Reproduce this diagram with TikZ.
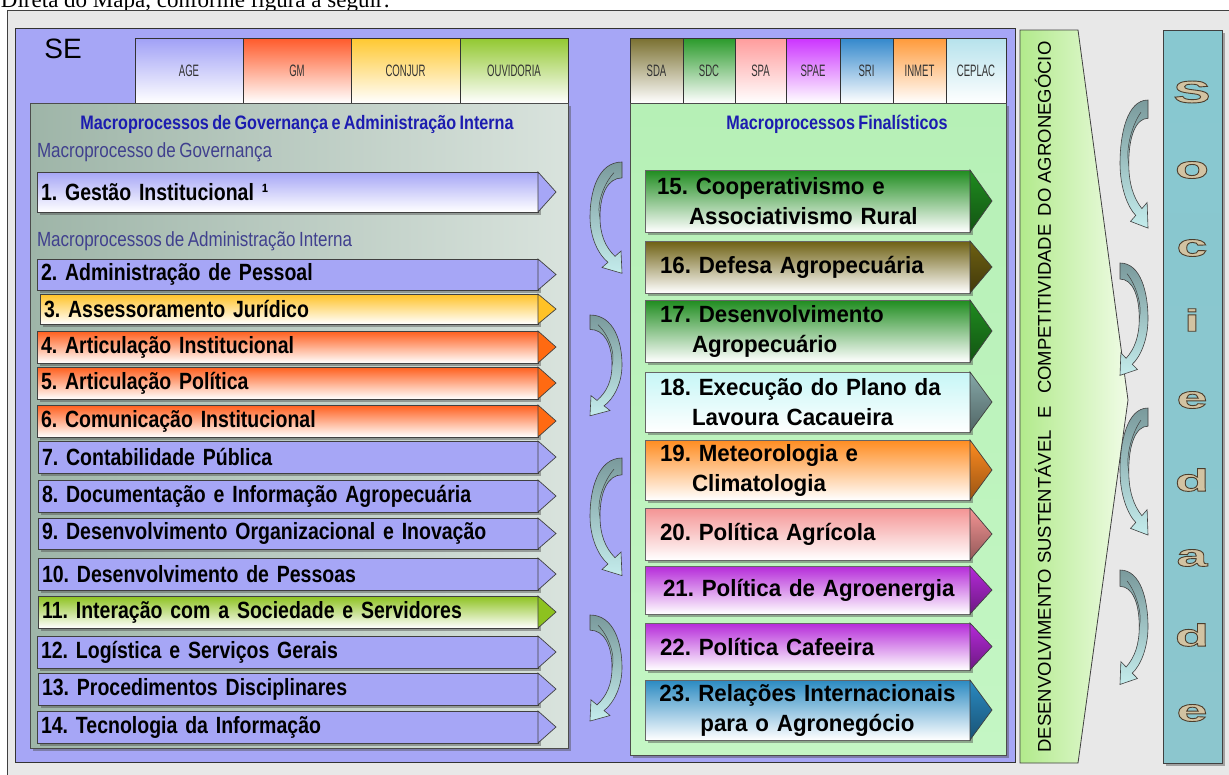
\documentclass[tikz,border=0pt]{standalone}
\usepackage{fontspec}
\setmainfont{Liberation Sans}
\newfontfamily\nb[FakeStretch=0.83,WordSpace=0.75]{Liberation Sans}
\newfontfamily\rb[FakeStretch=0.95,WordSpace=0.8]{Liberation Sans}
\newfontfamily\tabf[FakeStretch=0.58]{Liberation Sans}
\newfontfamily\socf[FakeStretch=1.8]{Liberation Sans}
\newfontfamily\serf{Liberation Serif}
\usetikzlibrary{calc,shadows}
\frenchspacing

\definecolor{outerbg}{HTML}{E8E8E8}
\definecolor{peri}{HTML}{A6A6F6}
\definecolor{paleblue}{HTML}{F2F2FF}
\definecolor{lpanL}{HTML}{9EB5A8}
\definecolor{lpanR}{HTML}{D9E3DD}
\definecolor{gpan}{HTML}{B6F0B6}
\definecolor{gpan2}{HTML}{C4F6C4}
\definecolor{titleblue}{HTML}{1C1CB0}
\definecolor{subblue}{HTML}{40408E}
\definecolor{yel}{HTML}{FFC226}
\definecolor{orr}{HTML}{FF5E1C}
\definecolor{orrtip}{HTML}{FF6A12}
\definecolor{lgreen}{HTML}{8DC21F}
\definecolor{dgreen}{HTML}{1F8C1F}
\definecolor{olive}{HTML}{6E6012}
\definecolor{lcyan}{HTML}{C6F6F6}
\definecolor{cyantip}{HTML}{86A8A8}
\definecolor{orange2}{HTML}{FF8C20}
\definecolor{pink2}{HTML}{F49494}
\definecolor{purp}{HTML}{B52AD9}
\definecolor{blue2}{HTML}{2A8AC2}
\definecolor{tabAGE}{HTML}{A0A0F6}
\definecolor{tabGM}{HTML}{FF5A2A}
\definecolor{tabCJ}{HTML}{FFC830}
\definecolor{tabOV}{HTML}{92C830}
\definecolor{tabSDA}{HTML}{7A7030}
\definecolor{tabSDC}{HTML}{2A9A2A}
\definecolor{tabSPA}{HTML}{FF9C9C}
\definecolor{tabSPAE}{HTML}{CC33FF}
\definecolor{tabSRI}{HTML}{3388CC}
\definecolor{tabINM}{HTML}{FF9A3A}
\definecolor{tabCEP}{HTML}{B6E2EC}
\definecolor{arrdark}{HTML}{7A9A9C}
\definecolor{arrlight}{HTML}{C4ECEC}
\definecolor{bandL}{HTML}{B2EA8C}
\definecolor{bandR}{HTML}{F0FCE6}
\definecolor{socT}{HTML}{88C8D0}
\definecolor{socM}{HTML}{C6F7FA}
\definecolor{socB}{HTML}{8CC6CE}
\definecolor{soctan}{HTML}{D2C3A2}

\tikzset{
  every node/.style={outer sep=0pt},
  pshadow/.style={drop shadow={shadow xshift=3pt,shadow yshift=-3pt,opacity=.45,fill=black!70}},
  litembox/.style={draw=black!75,line width=0.7pt,anchor=north west,inner xsep=4pt,inner ysep=0pt,
    align=left,font=\nb\bfseries\fontsize{23.5}{26}\selectfont,pshadow},
  ritembox/.style={draw=black!60,line width=0.5pt,anchor=north west,inner xsep=10pt,inner ysep=0pt,
    align=left,font=\rb\bfseries\fontsize{23.5}{30}\selectfont,text width=305pt,pshadow},
  tipbox/.style={draw=black!75,line width=0.7pt},
  tabbox/.style={draw=black!80,line width=0.7pt,anchor=north west,inner sep=0pt,
    font=\tabf\fontsize{16.5}{17}\selectfont,text=black!80,bottom color=white},
  curvarrow/.pic={
    \shade[top color=arrdark,bottom color=arrlight,draw=black!75,line width=0.6pt]
      (32,0) .. controls (8,0) and (0,28) .. (0,52)
      .. controls (0,72) and (9,88) .. (18,94.6)
      -- (12,99.5) -- (32,105) -- (31,84) -- (25,89)
      .. controls (15,80) and (10,68) .. (10,52)
      .. controls (10,30) and (18,15) .. (32,15) -- cycle;
    \draw[black!75,line width=0.5pt] (10,52) .. controls (6,40) and (14,20) .. (24,10);
  },
  socl/.style={font=\socf\bfseries\fontsize{31}{31}\selectfont,text=soctan,inner sep=0pt}
}

\newcommand\litem[7]{%
  \node[litembox,#5,text width={(530-#2)*1pt},minimum height={(#4-#3)*1pt}] (#1) at (#2,#3) {#7};
  \filldraw[tipbox,fill=#6] (#1.north east) -- ($(#1.east)+(18,0)$) -- (#1.south east) -- cycle;
}
\newcommand\ritem[6]{%
  \node[ritembox,top color=#4,bottom color=white,minimum height={(#3-#2)*1pt}] (#1) at (645,#2) {#6};
  \shade[tipbox,top color=#5,bottom color=#5!60!black] (#1.north east) -- ($(#1.east)+(22,0)$) -- (#1.south east) -- cycle;
}
\newcommand\outl[1]{\special{pdf:code 2 Tr 0.9 w 0.30 0.24 0.17 RG}#1\special{pdf:code 0 Tr}}

\begin{document}
\begin{tikzpicture}[x=1pt,y=-1pt]
\useasboundingbox (0,0) rectangle (1229,774);

% intro text (cut at top in the reference)
\node[anchor=base west,inner sep=0pt,font=\serf\fontsize{23}{25}\selectfont] (intro) at (1,7) {Direta do Mapa, conforme figura a seguir:};

% outer frame
\draw[fill=outerbg,draw=black!75,line width=0.8pt] (7,10) rectangle (1240,790);

% blue panel
\shade[top color=peri,middle color=paleblue,bottom color=peri,draw=black!80,line width=0.8pt] (15,28) rectangle (1015,762);

\node[font=\fontsize{28}{30}\selectfont] (se) at (63,49) {SE};

% left tabs
\node[tabbox,top color=tabAGE,minimum width=108pt,minimum height=65pt] (tAGE) at (135,38) {AGE};
\node[tabbox,top color=tabGM,minimum width=108pt,minimum height=65pt] (tGM) at (243,38) {GM};
\node[tabbox,top color=tabCJ,minimum width=109pt,minimum height=65pt] (tCJ) at (351,38) {CONJUR};
\node[tabbox,top color=tabOV,minimum width=108pt,minimum height=65pt] (tOV) at (460,38) {OUVIDORIA};

% right tabs
\node[tabbox,top color=tabSDA,minimum width=53pt,minimum height=65pt] (tSDA) at (630,38) {SDA};
\node[tabbox,top color=tabSDC,minimum width=52pt,minimum height=65pt] (tSDC) at (683,38) {SDC};
\node[tabbox,top color=tabSPA,minimum width=51pt,minimum height=65pt] (tSPA) at (735,38) {SPA};
\node[tabbox,top color=tabSPAE,minimum width=54pt,minimum height=65pt] (tSPAE) at (786,38) {SPAE};
\node[tabbox,top color=tabSRI,minimum width=53pt,minimum height=65pt] (tSRI) at (840,38) {SRI};
\node[tabbox,top color=tabINM,minimum width=53pt,minimum height=65pt] (tINM) at (893,38) {INMET};
\node[tabbox,top color=tabCEP,minimum width=60pt,minimum height=65pt] (tCEP) at (946,38) {CEPLAC};

% left panel
\shade[left color=lpanL,right color=lpanR,draw=black!70,line width=0.7pt,pshadow] (30,103) rectangle (568,748);
\node[font=\nb\bfseries\fontsize{19.5}{22}\selectfont,text=titleblue] (ltitle) at (297,124) {Macroprocessos de Governança e Administração Interna};
\node[anchor=west,inner xsep=0pt,font=\nb\fontsize{20.5}{22}\selectfont,text=subblue] (lsub1) at (37,152) {Macroprocesso de Governança};
\node[anchor=west,inner xsep=0pt,font=\nb\fontsize{20.5}{22}\selectfont,text=subblue] (lsub2) at (37,241) {Macroprocessos de Administração Interna};

\litem{i1}{37}{172}{212}{top color=peri,bottom color=white}{peri}{1. Gestão Institucional ¹}
\litem{i2}{37}{259}{290}{fill=peri}{peri}{2. Administração de Pessoal}
\litem{i3}{40}{294}{324}{top color=yel,bottom color=white}{yel}{3. Assessoramento Jurídico}
\litem{i4}{37}{331}{363}{top color=orr,bottom color=white}{orrtip}{4. Articulação Institucional}
\litem{i5}{37}{367}{399}{top color=orr,bottom color=white}{orrtip}{5. Articulação Política}
\litem{i6}{37}{405}{437}{top color=orr,bottom color=white}{orrtip}{6. Comunicação Institucional}
\litem{i7}{38}{441}{473}{fill=peri}{peri}{7. Contabilidade Pública}
\litem{i8}{38}{480}{512}{fill=peri}{peri}{8. Documentação e Informação Agropecuária}
\litem{i9}{38}{518}{549}{fill=peri}{peri}{9. Desenvolvimento Organizacional e Inovação}
\litem{i10}{38}{558}{590}{fill=peri}{peri}{10. Desenvolvimento de Pessoas}
\litem{i11}{38}{596}{628}{top color=lgreen,bottom color=white}{lgreen}{11. Interação com a Sociedade e Servidores}
\litem{i12}{37}{636}{668}{fill=peri}{peri}{12. Logística e Serviços Gerais}
\litem{i13}{38}{673}{705}{fill=peri}{peri}{13. Procedimentos Disciplinares}
\litem{i14}{37}{711}{743}{fill=peri}{peri}{14. Tecnologia da Informação}

% right panel
\shade[top color=gpan,bottom color=gpan2,draw=black!70,line width=0.7pt,pshadow] (630,103) rectangle (1006,755);
\node[font=\nb\bfseries\fontsize{19.5}{22}\selectfont,text=titleblue] (rtitle) at (837,124) {Macroprocessos Finalísticos};

\ritem{r15}{170}{232}{dgreen}{dgreen}{\hspace*{2pt}15. Cooperativismo e\\\hspace*{34pt}Associativismo Rural}
\ritem{r16}{241}{293}{olive}{olive}{\hspace*{5pt}16. Defesa Agropecuária}
\ritem{r17}{300}{362}{dgreen}{dgreen}{\hspace*{5pt}17. Desenvolvimento\\\hspace*{37pt}Agropecuário}
\ritem{r18}{372}{432}{lcyan}{cyantip}{\hspace*{5pt}18. Execução do Plano da\\\hspace*{37pt}Lavoura Cacaueira}
\ritem{r19}{440}{500}{orange2}{orange2}{\hspace*{5pt}19. Meteorologia e\\\hspace*{37pt}Climatologia}
\ritem{r20}{508}{560}{pink2}{pink2}{\hspace*{5pt}20. Política Agrícola}
\ritem{r21}{566}{614}{purp}{purp}{\hspace*{8pt}21. Política de Agroenergia}
\ritem{r22}{623}{670}{purp}{purp}{\hspace*{5pt}22. Política Cafeeira}
\node[ritembox,align=center,top color=blue2,bottom color=white,minimum height=60pt] (r23) at (645,680) {23. Relações Internacionais\\para o Agronegócio};
\shade[tipbox,top color=blue2,bottom color=blue2!60!black] (r23.north east) -- ($(r23.east)+(22,0)$) -- (r23.south east) -- cycle;

% arrows between panels
\pic[yscale=1.06] at (590,162) {curvarrow};
\pic[xscale=-1,yscale=0.96] at (622,315) {curvarrow};
\pic[yscale=1.12] at (590,458) {curvarrow};
\pic[xscale=-1,yscale=1.01] at (622,615) {curvarrow};

% vertical band
\shade[left color=bandL,right color=bandR,draw=black!75,line width=0.8pt] (1020,30) -- (1078,30) -- (1128,400) -- (1078,763) -- (1020,763) -- cycle;
\node[rotate=90,font=\fontsize{18.5}{20}\selectfont] (band) at (1043,397) {DESENVOLVIMENTO SUSTENTÁVEL\hspace{12pt}E\hspace{12pt}COMPETITIVIDADE\hspace{8pt}DO AGRONEGÓCIO};

% arrows in grey area
\pic[xscale=0.875,yscale=1.22] at (1120,100) {curvarrow};
\pic[xscale=-0.875,yscale=1.07] at (1148,263) {curvarrow};
\pic[xscale=0.875,yscale=1.21] at (1120,408) {curvarrow};
\pic[xscale=-0.875,yscale=1.09] at (1148,570) {curvarrow};

% sociedade column
\shade[top color=socT,middle color=socM,bottom color=socB,draw=black!75,line width=0.8pt,pshadow] (1163,30) rectangle (1222,763);
\node[socl] (s1) at (1192,92) {\outl{S}};
\node[socl] (s2) at (1192,170) {\outl{o}};
\node[socl] (s3) at (1192,248) {\outl{c}};
\node[socl] (s4) at (1192,320) {\outl{i}};
\node[socl] (s5) at (1192,400) {\outl{e}};
\node[socl] (s6) at (1192,480) {\outl{d}};
\node[socl] (s7) at (1192,558) {\outl{a}};
\node[socl] (s8) at (1192,635) {\outl{d}};
\node[socl] (s9) at (1192,713) {\outl{e}};
\end{tikzpicture}
\end{document}
